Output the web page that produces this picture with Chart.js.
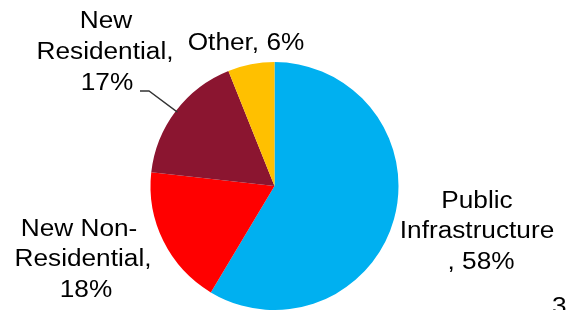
<!DOCTYPE html>
<html>
<head>
<meta charset="utf-8">
<script src="https://cdn.jsdelivr.net/npm/chart.js@4"></script>
<style>
  html, body { margin: 0; padding: 0; background: #fff; }
  #pie { display: block; }
</style>
</head>
<body>
<canvas id="pie" width="566" height="310"></canvas>
<script>
// slice data, clockwise from 12 o'clock
const categories = ['Public Infrastructure', 'New Non-Residential', 'New Residential', 'Other'];
const shares = [58, 18, 17, 6];
const sliceColours = ['#00B0F0', '#FF0000', '#8B1530', '#FFC000'];

// label text as it wraps in the picture
const labelLines = [
    ['Public', 'Infrastructure', ', 58%'],
    ['New Non-', 'Residential,', '18%'],
    ['New', 'Residential,', '17%'],
    ['Other, 6%']
];

// where each label line sits (centre x, baseline y)
const labelSpots = [
    [[477, 208], [477, 238], [481, 269]],
    [[79, 236], [83, 266], [86, 297]],
    [[106, 28], [105, 59], [107, 90]],
    [[246, 50]]
];
const leaderSlice = 2;   // only "New Residential" has a leader line

const textFont = '23px "Liberation Sans", Arial, sans-serif';
const stretch = 1.14;   // text in the picture is a bit wide

const labelPlugin = {
    id: 'outsideLabels',
    afterDraw(chart) {
        const ctx = chart.ctx;
        const arcs = chart.getDatasetMeta(0).data;

        // leader line to the middle of the slice edge
        const arc = arcs[leaderSlice];
        const mid = (arc.startAngle + arc.endAngle) / 2;
        const ex = arc.x + Math.cos(mid) * (arc.outerRadius - 2);
        const ey = arc.y + Math.sin(mid) * (arc.outerRadius - 2);
        ctx.save();
        ctx.strokeStyle = '#333';
        ctx.lineWidth = 1.3;
        ctx.beginPath();
        ctx.moveTo(140, 91);
        ctx.lineTo(149, 91);
        ctx.lineTo(ex, ey);
        ctx.stroke();
        ctx.restore();

        ctx.save();
        ctx.fillStyle = '#000';
        ctx.font = textFont;
        ctx.textAlign = 'center';
        ctx.textBaseline = 'alphabetic';
        labelLines.forEach((lines, i) => {
            lines.forEach((txt, j) => {
                const p = labelSpots[i][j];
                ctx.save();
                ctx.translate(p[0], p[1]);
                ctx.scale(stretch, 1);
                ctx.fillText(txt, 0, 0);
                ctx.restore();
            });
        });

        // page number, cut off at the bottom edge
        ctx.textAlign = 'left';
        ctx.save();
        ctx.translate(552, 314);
        ctx.scale(stretch, 1);
        ctx.fillText('3', 0, 0);
        ctx.restore();
        ctx.restore();
    }
};

new Chart(document.getElementById('pie').getContext('2d'), {
    type: 'pie',
    data: {
        labels: categories,
        datasets: [{
            data: shares,
            backgroundColor: sliceColours,
            borderWidth: 0
        }]
    },
    options: {
        responsive: false,
        animation: false,
        devicePixelRatio: 1,
        layout: {
            padding: { top: 62, bottom: 0, left: 0, right: 17 }
        },
        plugins: {
            legend: { display: false },
            tooltip: { enabled: false }
        }
    },
    plugins: [labelPlugin]
});
</script>
</body>
</html>
